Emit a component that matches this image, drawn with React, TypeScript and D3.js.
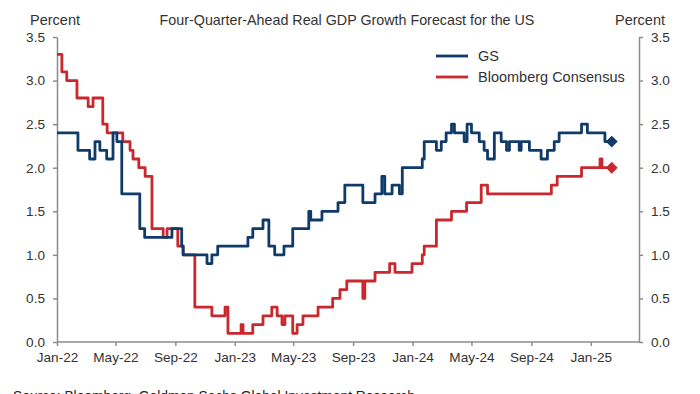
import React, { useEffect, useRef } from 'react';
import * as d3 from 'd3';

// GS forecast (step changes): date, value in percent
const gsDates = [
  '2022-01-01', '2022-02-13', '2022-03-09', '2022-03-20', '2022-03-30', '2022-04-13', '2022-04-26',
  '2022-05-04', '2022-05-14', '2022-06-20', '2022-06-30', '2022-08-25', '2022-09-14', '2022-09-17',
  '2022-11-05', '2022-11-15', '2022-11-27', '2023-01-28', '2023-02-07', '2023-02-28', '2023-03-12',
  '2023-03-24', '2023-04-12', '2023-04-30', '2023-06-02', '2023-06-06', '2023-06-29', '2023-08-01',
  '2023-08-15', '2023-09-21', '2023-10-16', '2023-10-30', '2023-11-05', '2023-11-20', '2023-12-05',
  '2023-12-11', '2024-01-21', '2024-01-25', '2024-02-19', '2024-02-29', '2024-03-10', '2024-03-21',
  '2024-03-27', '2024-04-16', '2024-04-22', '2024-05-01', '2024-05-17', '2024-05-27', '2024-06-03',
  '2024-06-17', '2024-07-01', '2024-07-12', '2024-07-18', '2024-08-07', '2024-08-11', '2024-08-28',
  '2024-09-21', '2024-10-04', '2024-10-18', '2024-10-28', '2024-12-13', '2024-12-25', '2025-01-30',
  '2025-02-13',
];
const gsValues = [
  2.4, 2.2, 2.1, 2.3, 2.2, 2.1, 2.4,
  2.3, 1.7, 1.3, 1.2, 1.3, 1.1, 1.0,
  0.9, 1.0, 1.1, 1.2, 1.3, 1.4, 1.1,
  1.0, 1.1, 1.3, 1.5, 1.4, 1.5, 1.6,
  1.8, 1.6, 1.7, 1.9, 1.7, 1.8, 1.7,
  2.0, 2.1, 2.3, 2.2, 2.3, 2.4, 2.5,
  2.4, 2.3, 2.5, 2.4, 2.3, 2.2, 2.1,
  2.4, 2.3, 2.2, 2.3, 2.2, 2.3, 2.2,
  2.1, 2.2, 2.3, 2.4, 2.5, 2.4, 2.3,
  2.3,
];

// Bloomberg consensus (step changes)
const bbgDates = [
  '2022-01-01', '2022-01-11', '2022-01-21', '2022-02-11', '2022-03-06', '2022-03-16', '2022-04-05',
  '2022-04-14', '2022-05-16', '2022-05-31', '2022-06-06', '2022-06-18', '2022-07-01', '2022-07-15',
  '2022-08-07', '2022-08-15', '2022-09-06', '2022-09-17', '2022-10-11', '2022-11-15', '2022-12-12',
  '2022-12-18', '2023-01-14', '2023-01-18', '2023-02-07', '2023-02-28', '2023-03-18', '2023-03-29',
  '2023-04-08', '2023-04-14', '2023-04-30', '2023-05-09', '2023-05-21', '2023-06-21', '2023-07-21',
  '2023-08-05', '2023-08-19', '2023-09-21', '2023-09-25', '2023-10-16', '2023-11-15', '2023-11-26',
  '2023-12-31', '2024-01-21', '2024-01-25', '2024-02-19', '2024-03-21', '2024-04-21', '2024-05-21',
  '2024-06-03', '2024-10-12', '2024-10-24', '2024-12-13', '2025-01-20', '2025-01-24', '2025-02-13',
];
const bbgValues = [
  3.3, 3.1, 3.0, 2.8, 2.7, 2.8, 2.5,
  2.4, 2.3, 2.2, 2.1, 2.0, 1.9, 1.3,
  1.2, 1.3, 1.1, 1.0, 0.4, 0.3, 0.4,
  0.1, 0.2, 0.1, 0.2, 0.3, 0.4, 0.3,
  0.2, 0.3, 0.1, 0.2, 0.3, 0.4, 0.5,
  0.6, 0.7, 0.5, 0.7, 0.8, 0.9, 0.8,
  0.9, 1.0, 1.1, 1.4, 1.5, 1.6, 1.8,
  1.7, 1.8, 1.9, 2.0, 2.1, 2.0, 2.0,
];

const yTicks = [0, 0.5, 1, 1.5, 2, 2.5, 3, 3.5];
const xTickDates = ['2022-01-01', '2022-05-01', '2022-09-01', '2023-01-01', '2023-05-01', '2023-09-01',
  '2024-01-01', '2024-05-01', '2024-09-01', '2025-01-01'];
const seriesNames = ['GS', 'Bloomberg Consensus'];
const seriesColors = ['#0f3b68', '#c8282e'];

export default function App() {
  const ref = useRef<SVGSVGElement>(null);

  useEffect(() => {
    const width = 700;
    const height = 394;
    const left = 57, right = 639, top = 37, bottom = 342;
    const parse = d3.utcParse('%Y-%m-%d');
    const font = '"Liberation Sans", Arial, sans-serif';
    const textColor = '#333';
    const axisColor = '#8c8c8c';

    const svg = d3.select(ref.current)
      .attr('width', width)
      .attr('height', height)
      .style('display', 'block')
      .style('font-family', font);
    svg.selectAll('*').remove();

    const x = d3.scaleUtc()
      .domain([parse('2022-01-01')!, parse('2025-04-10')!])
      .range([left, right]);
    const y = d3.scaleLinear().domain([0, 3.5]).range([bottom, top]);

    // axes
    const xAxis = d3.axisBottom(x)
      .tickValues(xTickDates.map(d => parse(d)!))
      .tickFormat(d => d3.utcFormat('%b-%y')(d as Date))
      .tickSize(4)
      .tickSizeOuter(0)
      .tickPadding(6);
    const gx = svg.append('g').attr('transform', `translate(0,${bottom})`).call(xAxis);

    const gl = svg.append('g').attr('transform', `translate(${left},0)`)
      .call(d3.axisLeft(y).tickValues(yTicks).tickFormat(d3.format('.1f')).tickSize(4).tickSizeOuter(0).tickPadding(8));
    const gr = svg.append('g').attr('transform', `translate(${right},0)`)
      .call(d3.axisRight(y).tickValues(yTicks).tickFormat(d3.format('.1f')).tickSize(4).tickSizeOuter(0).tickPadding(8));

    [gx, gl, gr].forEach(g => {
      g.select('.domain').attr('stroke', axisColor).attr('stroke-width', 1.5);
      g.selectAll('.tick line').attr('stroke', axisColor).attr('stroke-width', 1.5);
      g.selectAll('.tick text').attr('fill', textColor).attr('font-size', 13.6).attr('font-family', font);
    });
    gx.select('.domain').attr('d', `M${left},0H${right}`);

    // lines
    const line = d3.line<[Date, number]>()
      .x(d => x(d[0]))
      .y(d => y(d[1]))
      .curve(d3.curveStepAfter);

    const series = [
      gsDates.map((d, i) => [parse(d)!, gsValues[i]] as [Date, number]),
      bbgDates.map((d, i) => [parse(d)!, bbgValues[i]] as [Date, number]),
    ];

    // draw consensus first so GS sits on top where they overlap
    [1, 0].forEach(i => {
      svg.append('path')
        .datum(series[i])
        .attr('fill', 'none')
        .attr('stroke', seriesColors[i])
        .attr('stroke-width', 2.8)
        .attr('stroke-linejoin', 'round')
        .attr('d', line);
      const last = series[i][series[i].length - 1];
      svg.append('path')
        .attr('d', d3.symbol(d3.symbolDiamond2, 90)())
        .attr('transform', `translate(${x(last[0])},${y(last[1])})`)
        .attr('fill', seriesColors[i]);
    });

    // titles
    svg.append('text')
      .attr('x', 347).attr('y', 25)
      .attr('text-anchor', 'middle')
      .attr('font-size', 14.3)
      .attr('fill', textColor)
      .text('Four-Quarter-Ahead Real GDP Growth Forecast for the US');
    svg.append('text')
      .attr('x', 55).attr('y', 25).attr('text-anchor', 'middle')
      .attr('font-size', 14.5).attr('fill', textColor).text('Percent');
    svg.append('text')
      .attr('x', 640).attr('y', 25).attr('text-anchor', 'middle')
      .attr('font-size', 14.5).attr('fill', textColor).text('Percent');

    // legend
    seriesNames.forEach((name, i) => {
      const ly = 56 + i * 21;
      svg.append('line')
        .attr('x1', 436).attr('x2', 468).attr('y1', ly).attr('y2', ly)
        .attr('stroke', seriesColors[i]).attr('stroke-width', 2.8);
      svg.append('text')
        .attr('x', 478).attr('y', ly + 5)
        .attr('font-size', 14.5).attr('fill', textColor).text(name);
    });

    // source (cut off at the bottom edge, as in the original)
    svg.append('text')
      .attr('x', 13).attr('y', 401)
      .attr('font-size', 13.8)
      .attr('fill', '#222')
      .text('Source: Bloomberg, Goldman Sachs Global Investment Research');
  }, []);

  return (
    <div style={{ position: 'absolute', left: 0, top: 0 }}>
      <svg ref={ref} />
    </div>
  );
}
